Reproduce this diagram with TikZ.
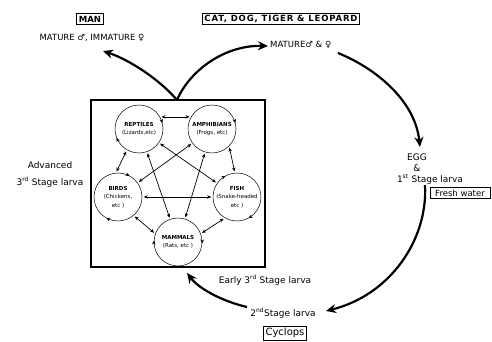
\documentclass[tikz,border=0pt]{standalone}
\usepackage{fontspec}
\setmainfont{DejaVu Sans}
\usetikzlibrary{arrows.meta,decorations.markings}
\begin{document}
\begin{tikzpicture}[x=1pt,y=-1pt,
  lbl/.style={font=\fontsize{8.5}{10}\selectfont, inner sep=0pt},
  stg/.style={font=\fontsize{9}{11}\selectfont, inner sep=0pt},
  tag/.style={draw, line width=0.9pt, font=\fontsize{8.5}{10}\selectfont\bfseries, inner sep=2pt},
  host/.style={circle, minimum size=48pt, inner sep=0pt, align=center, font=\fontsize{5.5}{8.5}\selectfont},
  ring/.style 2 args={line width=0.5pt, postaction={decorate, decoration={markings,
      mark=at position #1 with {\arrowreversed{Stealth[length=4pt,width=3.5pt]}},
      mark=at position #2 with {\arrowreversed{Stealth[length=4pt,width=3.5pt]}}}}},
  ring1/.style={line width=0.5pt, postaction={decorate, decoration={markings,
      mark=at position #1 with {\arrowreversed{Stealth[length=4pt,width=3.5pt]}}}}},
  link/.style={{Stealth[length=4pt,width=3.5pt]}-{Stealth[length=4pt,width=3.5pt]}, line width=0.7pt, shorten >=1.5pt, shorten <=1.5pt},
  big/.style={-{Stealth[length=10pt,width=9pt]}, line width=2.2pt},
]
\useasboundingbox (0,0) rectangle (492,342);

% top labels
\node[tag] (man) at (90,19) {MAN};
\node[tag] (cat) at (281,19) {\addfontfeatures{LetterSpace=10}CAT, DOG, TIGER \& LEOPARD};
\node[lbl] (mi) at (92,38) {MATURE ♂, IMMATURE ♀};
\node[lbl, anchor=west] (mm) at (270,45) {MATURE♂ \& ♀};

% right side
\node[stg] (egg) at (417,157) {EGG};
\node[stg] (et) at (417,168) {\&};
\node[stg] (l1) at (430,179) {1\textsuperscript{st} Stage larva};
\node[draw, line width=0.6pt, font=\fontsize{8.5}{10}\selectfont, inner sep=2pt, minimum width=60pt] (fw) at (460,193) {Fresh water};

% left side
\node[stg] (adv) at (50,165) {Advanced};
\node[stg] (l3a) at (50,182) {3\textsuperscript{rd} Stage larva};

% bottom
\node[stg] (e3) at (265,280) {Early 3\textsuperscript{rd} Stage larva};
\node[stg] (l2) at (283,313) {2\textsuperscript{nd}Stage larva};
\node[draw, line width=0.6pt, font=\fontsize{10}{12}\selectfont, inner sep=2pt] (cyc) at (285,333) {Cyclops};

% host box
\node[draw, line width=2.4pt, minimum width=174pt, minimum height=167pt, inner sep=0pt] (box) at (178,183.5) {};

% host circles
\node[host] (R) at (139,129) {\textbf{REPTILES}\\(Lizards,etc)};
\node[host] (A) at (212,129) {\textbf{AMPHIBIANS}\\(Frogs, etc)};
\node[host] (B) at (118,197) {\textbf{BIRDS}\\(Chickens,\\etc )};
\node[host] (F) at (237,197) {\textbf{FISH}\\(Snake-headed\\etc )};
\node[host] (M) at (178,242) {\textbf{MAMMALS}\\(Rats, etc )};

\draw[ring={0.04}{0.56}] (R.center) circle[radius=24pt];
\draw[ring1={0.04}] (A.center) circle[radius=24pt];
\draw[ring={0.17}{0.67}] (B.center) circle[radius=24pt];
\draw[ring={0.33}{0.83}] (F.center) circle[radius=24pt];
\draw[ring={0.49}{0.99}] (M.center) circle[radius=24pt];

% links between hosts
\draw[link] (R.30) -- (A.150);
\draw[link] (R.240) -- (B.95);
\draw[link] (A.315) -- (F.95);
\draw[link] (B) -- (F);
\draw[link] (B.-50) -- (M.160);
\draw[link] (F.240) -- (M.20);
\draw[link] (R) -- (F);
\draw[link] (A) -- (B);
\draw[link] (R) -- (M);
\draw[link] (A) -- (M);

% life cycle arrows
\coordinate (bt) at (177,100);
\coordinate (tipL) at (103,51);
\coordinate (tipR) at (268,46);
\coordinate (s1) at (338,53);
\coordinate (tipE) at (420,147);
\coordinate (s2) at (425,185);
\coordinate (tip2) at (326,311);
\coordinate (s3) at (247,307);
\coordinate (tip3) at (187,273);

\draw[big] (bt) .. controls (160,80) and (130,60) .. (tipL);
\draw[big] (bt) .. controls (190,70) and (225,45) .. (tipR);
\draw[big] (s1) .. controls (375,68) and (415,100) .. (tipE);
\draw[big] (s2) .. controls (428,240) and (390,295) .. (tip2);
\draw[big] (s3) .. controls (225,302) and (200,290) .. (tip3);
\end{tikzpicture}
\end{document}
